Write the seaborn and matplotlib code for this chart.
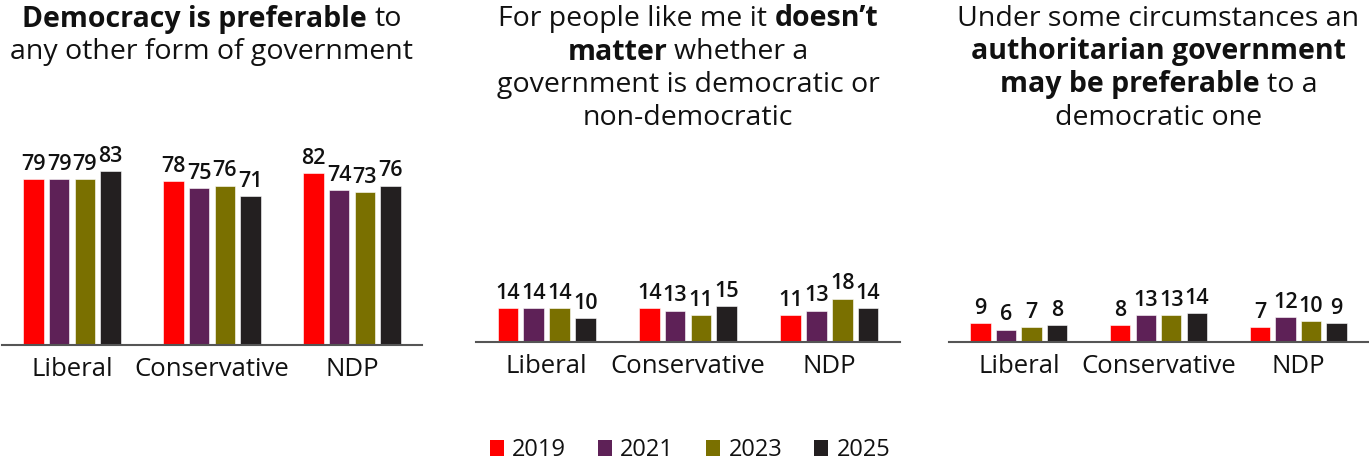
import matplotlib
matplotlib.use("Agg")
import matplotlib.pyplot as plt
from matplotlib.patches import Patch
import seaborn as sns
import pandas as pd

parties = ["Liberal", "Conservative", "NDP"]
years = ["2019", "2021", "2023", "2025"]
colors = ["#FF0000", "#5E2157", "#7A7000", "#231F20"]

democracy_preferable = {"Liberal": [79, 79, 79, 83], "Conservative": [78, 75, 76, 71], "NDP": [82, 74, 73, 76]}
doesnt_matter = {"Liberal": [14, 14, 14, 10], "Conservative": [14, 13, 11, 15], "NDP": [11, 13, 18, 14]}
authoritarian_ok = {"Liberal": [9, 6, 7, 8], "Conservative": [8, 13, 13, 14], "NDP": [7, 12, 10, 9]}

titles = [
    [[("Democracy is preferable", True), ("to", False)],
     [("any other form of government", False)]],
    [[("For people like me it", False), ("doesn\u2019t", True)],
     [("matter", True), ("whether a", False)],
     [("government is democratic or", False)],
     [("non-democratic", False)]],
    [[("Under some circumstances an", False)],
     [("authoritarian government", True)],
     [("may be preferable", True), ("to a", False)],
     [("democratic one", False)]],
]

W, H = 1369, 462
sns.set_theme(style="white")
plt.rcParams["font.family"] = ["Open Sans", "DejaVu Sans"]
plt.rcParams["text.color"] = "#111111"

fig = plt.figure(figsize=(W / 100, H / 100), dpi=100)

# axes positions in pixels: left, right, baseline_y, top_y
panels = [(2, 422, 345, 150), (476, 900, 341.7, 150), (949, 1368, 341.7, 150)]
ylims = [93, 80, 94.4]
datasets = [democracy_preferable, doesnt_matter, authoritarian_ok]

for (l, r, b, t), ymax, data in zip(panels, ylims, datasets):
    ax = fig.add_axes([l / W, 1 - b / H, (r - l) / W, (b - t) / H])
    rows = []
    for p in parties:
        for y, v in zip(years, data[p]):
            rows.append({"party": p, "year": y, "value": v})
    df = pd.DataFrame(rows)
    sns.barplot(data=df, x="party", y="value", hue="year", palette=colors,
                width=0.73, gap=0.2, ax=ax, legend=False, saturation=1,
                edgecolor="white", linewidth=0.4)
    for c in ax.containers:
        ax.bar_label(c, fmt="%d", padding=3, fontsize=15.5, fontweight="semibold", color="#111111")
    ax.set_ylim(0, ymax)
    ax.set_xlim(-0.5, 2.5)
    ax.set_xlabel("")
    ax.set_ylabel("")
    ax.set_yticks([])
    ax.tick_params(axis="x", length=0, pad=9, labelsize=18.5, labelcolor="#111111")
    for s in ["top", "left", "right"]:
        ax.spines[s].set_visible(False)
    ax.spines["bottom"].set_color("#555555")
    ax.spines["bottom"].set_linewidth(1.5)

renderer = fig.canvas.get_renderer()
title_size = 20.5


def measure(s, bold):
    tt = fig.text(0, 0, s, fontsize=title_size, fontweight="bold" if bold else "normal")
    w = tt.get_window_extent(renderer).width
    tt.remove()
    return w


space_w = measure("x x", False) - measure("xx", False)
line_gap = 33
for (l, r, b, t), lines in zip(panels, titles):
    cx = (l + r) / 2
    for i, segs in enumerate(lines):
        cy = 19 + i * line_gap
        widths = [measure(s, bd) for s, bd in segs]
        total = sum(widths) + space_w * (len(segs) - 1)
        x = cx - total / 2
        for (s, bd), w in zip(segs, widths):
            fig.text(x / W, 1 - cy / H, s, fontsize=title_size,
                     fontweight="bold" if bd else "normal", va="center", ha="left")
            x += w + space_w

handles = [Patch(facecolor=c, edgecolor="none", label=y) for c, y in zip(colors, years)]
fig.legend(handles=handles, loc="center", bbox_to_anchor=(690 / W, 1 - 450 / H), ncol=4,
           frameon=False, fontsize=17, handlelength=0.6, handleheight=0.68,
           handletextpad=0.34, columnspacing=1.36, borderaxespad=0)

fig.savefig("out.png", dpi=100)
